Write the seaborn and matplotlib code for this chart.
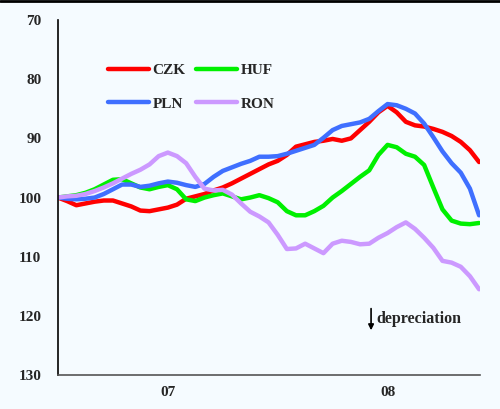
import numpy as np
import pandas as pd
import matplotlib
matplotlib.use("Agg")
import matplotlib.pyplot as plt
import seaborn as sns

# months since start of series (half-month steps), tick labels at 6 and 18
months = np.arange(0, 23.5, 0.5)

czk = [100.0, 100.6, 101.3, 101.0, 100.7, 100.5, 100.5, 101.0, 101.5, 102.2,
       102.3, 102.0, 101.7, 101.2, 100.2, 99.8, 99.4, 98.8, 98.3, 97.6,
       96.8, 96.0, 95.2, 94.4, 93.8, 92.8, 91.4, 91.0, 90.6, 90.4,
       90.1, 90.4, 90.0, 88.6, 87.2, 85.6, 84.5, 85.6, 87.2, 87.8,
       88.0, 88.4, 88.9, 89.6, 90.6, 92.0, 94.0]
huf = [100.0, 99.8, 99.6, 99.2, 98.6, 97.8, 97.0, 96.9, 97.6, 98.3,
       98.6, 98.2, 97.9, 98.6, 100.3, 100.6, 100.0, 99.6, 99.3, 99.8,
       100.3, 100.0, 99.6, 100.1, 100.8, 102.3, 103.0, 103.0, 102.3, 101.4,
       100.0, 98.9, 97.7, 96.5, 95.4, 92.8, 91.1, 91.5, 92.6, 93.1,
       94.5, 98.3, 102.0, 103.9, 104.4, 104.5, 104.3]
pln = [100.0, 100.2, 100.3, 100.2, 100.0, 99.4, 98.6, 97.8, 97.8, 98.2,
       98.0, 97.6, 97.3, 97.5, 97.9, 98.2, 97.7, 96.5, 95.5, 94.9,
       94.3, 93.8, 93.1, 93.1, 93.0, 92.6, 92.1, 91.6, 91.1, 89.9,
       88.6, 87.9, 87.6, 87.3, 86.7, 85.4, 84.2, 84.4, 85.0, 85.8,
       87.5, 89.8, 92.2, 94.2, 95.8, 98.5, 103.0]
ron = [100.0, 99.8, 99.7, 99.4, 98.9, 98.3, 97.6, 96.8, 96.0, 95.3,
       94.4, 93.0, 92.4, 93.0, 94.2, 96.5, 98.5, 98.8, 98.7, 99.5,
       101.0, 102.4, 103.2, 104.2, 106.3, 108.7, 108.6, 107.8, 108.6, 109.4,
       107.8, 107.3, 107.5, 107.9, 107.8, 106.8, 106.0, 105.0, 104.2, 105.3,
       106.8, 108.5, 110.7, 111.0, 111.7, 113.3, 115.5]

tick_pos = [6, 12, 18]
tick_lab = ["07", "", "08"]

df = pd.DataFrame({"m": months, "CZK": czk, "HUF": huf, "PLN": pln, "RON": ron})
long = df.melt(id_vars="m", var_name="cur", value_name="v")

colors = {"CZK": "#ff0000", "HUF": "#00f000", "PLN": "#3f6fff", "RON": "#cc99ff"}

sns.set_style("white")
plt.rcParams["font.family"] = ["Liberation Serif", "DejaVu Serif"]
plt.rcParams["font.weight"] = "bold"

bg = "#f5fbff"
fig = plt.figure(figsize=(5, 4.09), dpi=100, facecolor=bg)
ax = fig.add_axes([0.116, 0.083, 0.844, 0.868])
ax.set_facecolor(bg)

sns.lineplot(data=long, x="m", y="v", hue="cur", palette=colors, lw=3.2,
             ax=ax, legend=False)

ax.set_xlim(0, 23.05)
ax.set_ylim(130, 70)
ax.set_yticks(range(70, 131, 10))
ax.set_xticks(tick_pos)
ax.set_xticklabels(tick_lab)
ax.set_xlabel("")
ax.set_ylabel("")
ax.tick_params(direction="in", length=4, width=1, labelsize=11, pad=8)
ax.tick_params(axis="y", pad=12)
for lab in ax.get_xticklabels() + ax.get_yticklabels():
    lab.set_fontweight("bold")

sns.despine(ax=ax)
ax.spines["left"].set_color("black")
ax.spines["bottom"].set_color("#555555")
ax.spines["left"].set_linewidth(1.2)
ax.spines["bottom"].set_linewidth(1.2)

# legend, row-major: CZK HUF / PLN RON
order = ["CZK", "PLN", "HUF", "RON"]
handles = [plt.Line2D([], [], color=colors[c], lw=3.2) for c in order]
ax.legend(handles, order, ncol=2, loc="upper left", bbox_to_anchor=(0.086, 0.917),
          frameon=False, handlelength=2.7, labelspacing=1.3, columnspacing=0.7,
          handletextpad=0.2, prop={"weight": "bold", "size": 11})

ax.annotate("", xy=(17.1, 122.9), xytext=(17.1, 118.3),
            arrowprops=dict(arrowstyle="-|>", color="black", lw=1.2,
                            mutation_scale=8))
ax.text(17.4, 120.6, "depreciation", fontsize=11.5, fontweight="bold",
        va="center", ha="left")

# thin dark border at the top of the image
fig.add_artist(plt.Line2D([0, 1], [0.997, 0.997], color="black", lw=2,
                          transform=fig.transFigure))

fig.savefig("out.png", dpi=100, facecolor=bg)
